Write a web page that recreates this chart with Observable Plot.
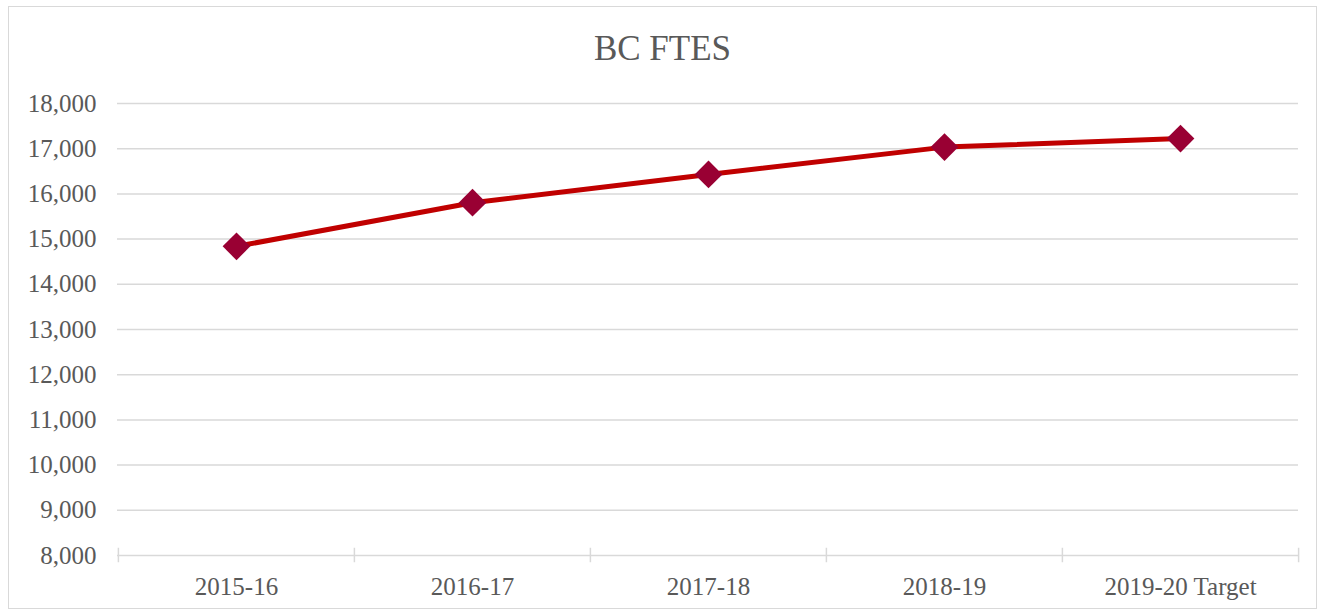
<!DOCTYPE html>
<html>
<head>
<meta charset="utf-8">
<script src="https://cdn.jsdelivr.net/npm/d3@7"></script>
<script src="https://cdn.jsdelivr.net/npm/@observablehq/plot@0.6"></script>
<style>
  html, body { margin: 0; padding: 0; background: #fff; }
  #wrap { position: relative; width: 1325px; height: 614px; overflow: hidden; }
  #frame { position: absolute; left: 8px; top: 6px; width: 1309px; height: 603px; border: 1px solid #d9d9d9; box-sizing: border-box; }
  #title { position: absolute; left: 0; top: 0; width: 1325px; height: 80px; text-align: center;
           font-family: "Liberation Serif", serif; font-size: 35px; color: #595959; line-height: 98px; }
  #chart { position: absolute; left: 0; top: 80px; }
</style>
</head>
<body>
<div id="wrap">
  <div id="frame"></div>
  <div id="title">BC FTES</div>
  <div id="chart"></div>
</div>
<script>
const years = ["2015-16", "2016-17", "2017-18", "2018-19", "2019-20 Target"];
const ftes = [14840, 15805, 16430, 17035, 17225];
const yTicks = [8000, 9000, 10000, 11000, 12000, 13000, 14000, 15000, 16000, 17000, 18000];

const data = years.map((y, i) => ({year: y, value: ftes[i]}));

const W = 1325, H = 534;
const mL = 117, mR = 27;
const bw = (W - mL - mR) / years.length;

const plot = Plot.plot({
  width: W,
  height: H,
  marginLeft: mL,
  marginRight: mR,
  marginTop: 23,
  marginBottom: 59,
  style: { fontFamily: "Liberation Serif, serif", fontSize: "25px", color: "#595959", background: "transparent", overflow: "visible" },
  x: { type: "band", domain: years, padding: 0, label: null },
  y: { domain: [8000, 18000], label: null },
  marks: [
    Plot.ruleY(yTicks, { stroke: "#d9d9d9", strokeWidth: 1.5, strokeOpacity: 1 }),
    Plot.ruleX(years, { x: d => d, dx: -bw / 2, y1: 7840, y2: 8160, stroke: "#d9d9d9", strokeWidth: 1.5 }),
    Plot.ruleX([years[years.length - 1]], { x: d => d, dx: bw / 2, y1: 7840, y2: 8160, stroke: "#d9d9d9", strokeWidth: 1.5 }),
    Plot.axisY({ ticks: yTicks, tickSize: 0, tickPadding: 21, tickFormat: d3.format(","), fill: "#595959", fontSize: 25 }),
    Plot.axisX({ tickSize: 0, tickPadding: 22, fill: "#595959", fontSize: 25 }),
    Plot.line(data, { x: "year", y: "value", stroke: "#c00000", strokeWidth: 5, curve: "linear" }),
    Plot.dot(data, { x: "year", y: "value", symbol: "diamond2", r: 12.5, fill: "#990033", stroke: "none" })
  ]
});
document.getElementById("chart").appendChild(plot);
</script>
</body>
</html>
